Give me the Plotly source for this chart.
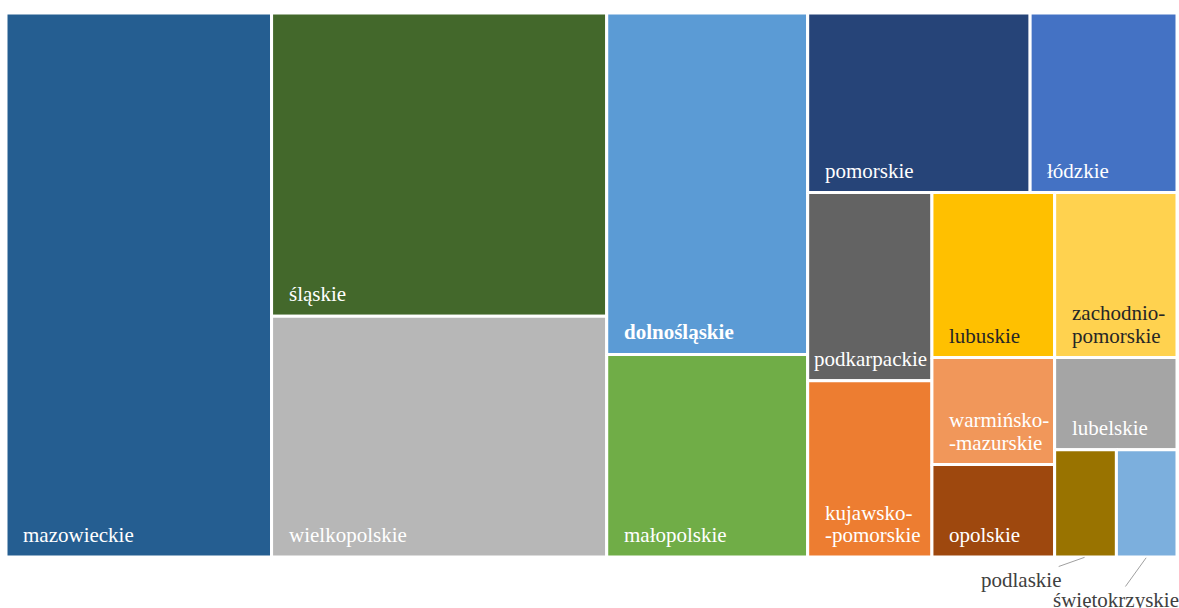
import plotly.graph_objects as go

# Voivodeships in alphabetical order (this is also the order of Excel's series colours)
regions = ["dolnośląskie", "kujawsko-pomorskie", "lubelskie", "lubuskie", "łódzkie",
           "małopolskie", "mazowieckie", "opolskie", "podkarpackie", "podlaskie",
           "pomorskie", "śląskie", "świętokrzyskie", "warmińsko-mazurskie",
           "wielkopolskie", "zachodniopomorskie"]
labels = ["dolnośląskie", "kujawsko-\n-pomorskie", "lubelskie", "lubuskie", "łódzkie",
          "małopolskie", "mazowieckie", "opolskie", "podkarpackie", "podlaskie",
          "pomorskie", "śląskie", "świętokrzyskie", "warmińsko-\n-mazurskie",
          "wielkopolskie", "zachodnio-\npomorskie"]
# share of the total, %
share = [10.77, 3.44, 1.77, 3.18, 4.14, 6.39, 22.68, 1.78, 3.67, 1.04,
         6.27, 15.95, 1.02, 2.06, 12.67, 3.17]
colors = ["#5B9BD5", "#ED7D31", "#A5A5A5", "#FFC000", "#4472C4", "#70AD47",
          "#255E91", "#9E480E", "#636363", "#997300", "#264478", "#43682B",
          "#7CAFDD", "#F1975A", "#B7B7B7", "#FFD24F"]

# --- style ---
FIG_W, FIG_H = 1179, 608
MARGIN = dict(l=5.5, r=2, t=13, b=50.5)
FONT = "Liberation Serif, Times New Roman, serif"
FONT_SIZE = 21
PAD_X, PAD_Y, LINE_STEP = 15, 22, 22.5
pad_override = {"podkarpackie": 4}
bold = {"dolnośląskie"}
# labels drawn outside their (small) tiles: pixel offset of the text from the tile's bottom centre
callouts = {"podlaskie": (-65, 23), "świętokrzyskie": (-31, 43)}


def worst_ratio(row, side):
    s = sum(a for _, a in row)
    t = s / side
    return max(max(t / (a / t), (a / t) / t) for _, a in row)


def squarify(items, x, y, w, h, keep=0.95):
    """Excel-like squarified tiling: strips go along the short side and only
    grow while the worst aspect ratio clearly improves."""
    rects = {}
    while items:
        if len(items) == 1:
            rects[items[0][0]] = (x, y, x + w, y + h)
            break
        side = min(w, h)
        row = [items[0]]
        best = worst_ratio(row, side)
        for it in items[1:]:
            cand = worst_ratio(row + [it], side)
            if cand < best * keep:
                row.append(it)
                best = cand
            else:
                break
        t = sum(a for _, a in row) / side
        pos = 0
        for i, a in row:
            l = a / t
            if h <= w:
                rects[i] = (x, y + pos, x + t, y + pos + l)
            else:
                rects[i] = (x + pos, y, x + pos + l, y + t)
            pos += l
        if h <= w:
            x, w = x + t, w - t
        else:
            y, h = y + t, h - t
        items = items[len(row):]
    return rects


def text_color(hex_color):
    r, g, b = (int(hex_color[k:k + 2], 16) / 255 for k in (1, 3, 5))
    lin = [c / 12.92 if c <= 0.04045 else ((c + 0.055) / 1.055) ** 2.4 for c in (r, g, b)]
    lum = 0.2126 * lin[0] + 0.7152 * lin[1] + 0.0722 * lin[2]
    return "#262626" if lum > 0.5 else "#FFFFFF"


box_w = FIG_W - MARGIN["l"] - MARGIN["r"]
box_h = FIG_H - MARGIN["t"] - MARGIN["b"]
total = sum(share)
order = sorted(range(len(share)), key=lambda i: -share[i])
items = [(i, share[i] / total * box_w * box_h) for i in order]
rects = squarify(items, 0, 0, box_w, box_h)

fig = go.Figure()
annotations = []
for i in order:
    x0, y0, x1, y1 = rects[i]
    fig.add_trace(go.Scatter(
        x=[x0, x1, x1, x0, x0], y=[y0, y0, y1, y1, y0],
        mode="lines", fill="toself", fillcolor=colors[i],
        line=dict(color="white", width=3),
        hoveron="fills", name=regions[i],
        text=f"{regions[i]}: {share[i]:.2f}%", hoverinfo="text",
    ))
    name = regions[i]
    if name in callouts:
        ax, ay = callouts[name]
        annotations.append(dict(
            x=(x0 + x1) / 2, y=y1, xref="x", yref="y", text=labels[i],
            showarrow=True, arrowhead=0, arrowwidth=1, arrowcolor="#A0A0A0",
            ax=ax, ay=ay, standoff=1,
            font=dict(family=FONT, size=FONT_SIZE, color="#404040"),
        ))
        continue
    lines = labels[i].split("\n")
    for k, line in enumerate(lines):
        txt = f"<b>{line}</b>" if name in bold else line
        annotations.append(dict(
            x=x0, y=y1, xref="x", yref="y", text=txt, showarrow=False,
            xanchor="left", yanchor="middle",
            xshift=pad_override.get(name, PAD_X),
            yshift=PAD_Y + (len(lines) - 1 - k) * LINE_STEP,
            font=dict(family=FONT, size=FONT_SIZE, color=text_color(colors[i])),
        ))

fig.update_layout(
    width=FIG_W, height=FIG_H,
    margin=dict(MARGIN, pad=0),
    showlegend=False,
    plot_bgcolor="white", paper_bgcolor="white",
    xaxis=dict(range=[0, box_w], visible=False, fixedrange=True),
    yaxis=dict(range=[box_h, 0], visible=False, fixedrange=True),
    annotations=annotations,
)

# the page body has a default 8px margin; drop it so the figure sits at the window's corner
fig.write_html("out.html", config={"displayModeBar": False},
               post_script="document.body.style.margin = '0';")
